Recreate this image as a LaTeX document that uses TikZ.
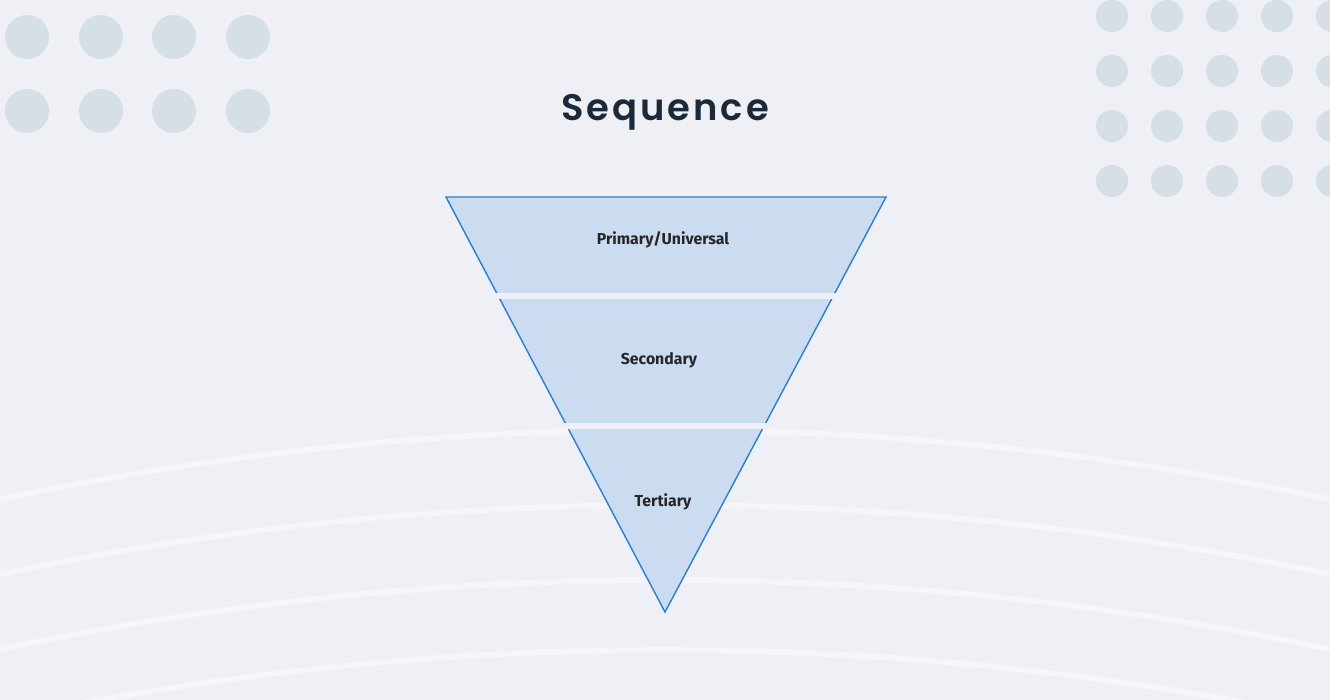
\documentclass[tikz,border=0pt]{standalone}
\usepackage{fontspec}
\setsansfont{Fira Sans}
\newfontfamily\titlefont[LetterSpace=8]{Poppins SemiBold}
\definecolor{bgcol}{HTML}{EEF0F5}
\definecolor{dotcol}{HTML}{D5DFE5}
\definecolor{bandfill}{HTML}{CCDCF0}
\definecolor{bandline}{HTML}{2A7FD0}
\definecolor{titlecol}{HTML}{1A2A3A}
\begin{document}
\begin{tikzpicture}[x=0.01cm, y=-0.01cm,
    dot/.style={fill=dotcol, draw=none},
    arcline/.style={draw=white, opacity=0.45, line width=1.6pt},
    label/.style={font=\sffamily\bfseries\fontsize{4.5}{6}\selectfont, text=black!85}]
        % Background
    \fill[bgcol] (0,0) rectangle (1330,700);
    \useasboundingbox (0,0) rectangle (1330,700);
    \begin{scope}
        \clip (0,0) rectangle (1330,700);
        \foreach \yy in {430,505,580,650}
            \draw[arcline] (665,\yy+3194) circle (3194);
        \foreach \xx in {27,101,174,248}
            \foreach \yy in {37,111}
                \fill[dot] (\xx,\yy) circle (22);
        \foreach \xx in {1112,1167,1222,1277,1332}
            \foreach \yy in {16,71,126,181}
                \fill[dot] (\xx,\yy) circle (16);
    \end{scope}

    % Title
    \node (title) at (665,112) {\titlefont\fontsize{10.5}{12}\selectfont\color{titlecol}Sequence};

    % Funnel
    \filldraw[fill=bandfill, draw=bandline, line width=0.4pt] (446,197) -- (886,197) -- (665,612) -- cycle;
    \fill[bgcol] (490,293) rectangle (840,299);
    \fill[bgcol] (560,423) rectangle (770,429);

    % Labels
    \node[label] (primary) at (663,240) {Primary/Universal};
    \node[label] (secondary) at (659,360) {Secondary};
    \node[label] (tertiary) at (663,502) {Tertiary};
\end{tikzpicture}
\end{document}
